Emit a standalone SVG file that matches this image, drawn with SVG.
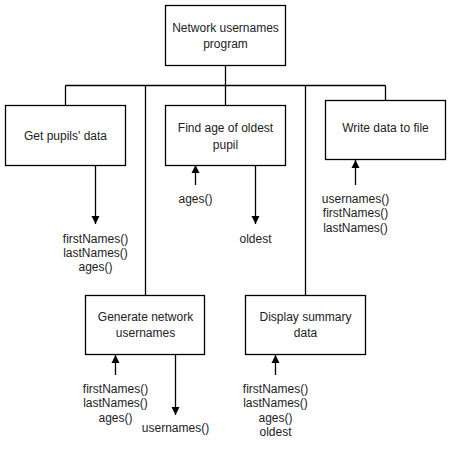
<svg xmlns="http://www.w3.org/2000/svg" width="451" height="451" viewBox="0 0 451 451">
<defs>
<style>
.box{fill:#fff;stroke:#000;stroke-width:1.3}
.ln{fill:none;stroke:#000;stroke-width:1.3}
text{font-family:"Liberation Sans",Arial,sans-serif;font-size:12px;fill:#222;text-anchor:middle}
</style>
<marker id="ah" markerUnits="userSpaceOnUse" markerWidth="10" markerHeight="10" viewBox="0 0 10 10" refX="9" refY="5" orient="auto">
<path d="M1,1 L9,5 L1,9 Z" fill="#000"/>
</marker>
</defs>
<rect width="451" height="451" fill="#fff"/>
<g id="connectors">
<path class="ln" d="M225.5,65 V85.5 M65.5,85.5 H385.5 M65.5,85.5 V105 M145.5,85.5 V295 M225.5,85.5 V105 M305.5,85.5 V295 M385.5,85.5 V100"/>
<line class="ln" x1="95.5" y1="165" x2="95.5" y2="224" marker-end="url(#ah)"/>
<line class="ln" x1="195.5" y1="185" x2="195.5" y2="165" marker-end="url(#ah)"/>
<line class="ln" x1="255.5" y1="165" x2="255.5" y2="224" marker-end="url(#ah)"/>
<line class="ln" x1="355.5" y1="185" x2="355.5" y2="160" marker-end="url(#ah)"/>
<line class="ln" x1="115.5" y1="375" x2="115.5" y2="355" marker-end="url(#ah)"/>
<line class="ln" x1="175.5" y1="355" x2="175.5" y2="415" marker-end="url(#ah)"/>
<line class="ln" x1="275.5" y1="375" x2="275.5" y2="355" marker-end="url(#ah)"/>
</g>
<g id="root">
<rect class="box" x="165.5" y="5.5" width="120" height="60"/>
<text x="225.5" y="32">Network usernames</text>
<text x="225.5" y="48">program</text>
</g>
<g id="get">
<rect class="box" x="5.5" y="105.5" width="120" height="60"/>
<text x="65.5" y="140">Get pupils' data</text>
</g>
<g id="find">
<rect class="box" x="165.5" y="105.5" width="120" height="60"/>
<text x="225.5" y="132">Find age of oldest</text>
<text x="225.5" y="149">pupil</text>
</g>
<g id="write">
<rect class="box" x="325.5" y="100.5" width="120" height="59"/>
<text x="385.5" y="132">Write data to file</text>
</g>
<g id="generate">
<rect class="box" x="85.5" y="295.5" width="119" height="59"/>
<text x="145.5" y="321">Generate network</text>
<text x="145.5" y="337">usernames</text>
</g>
<g id="display">
<rect class="box" x="245.5" y="295.5" width="120" height="59"/>
<text x="305.5" y="321">Display summary</text>
<text x="305.5" y="337">data</text>
</g>
<g id="labels">
<text x="95.5" y="243">firstNames()</text>
<text x="95.5" y="257">lastNames()</text>
<text x="95.5" y="271">ages()</text>
<text x="195.5" y="203">ages()</text>
<text x="255.5" y="243">oldest</text>
<text x="355.5" y="203">usernames()</text>
<text x="355.5" y="217">firstNames()</text>
<text x="355.5" y="232">lastNames()</text>
<text x="115.5" y="393">firstNames()</text>
<text x="115.5" y="407">lastNames()</text>
<text x="115.5" y="422">ages()</text>
<text x="175.5" y="432">usernames()</text>
<text x="275.5" y="393">firstNames()</text>
<text x="275.5" y="407">lastNames()</text>
<text x="275.5" y="422">ages()</text>
<text x="275.5" y="436">oldest</text>
</g>
</svg>
